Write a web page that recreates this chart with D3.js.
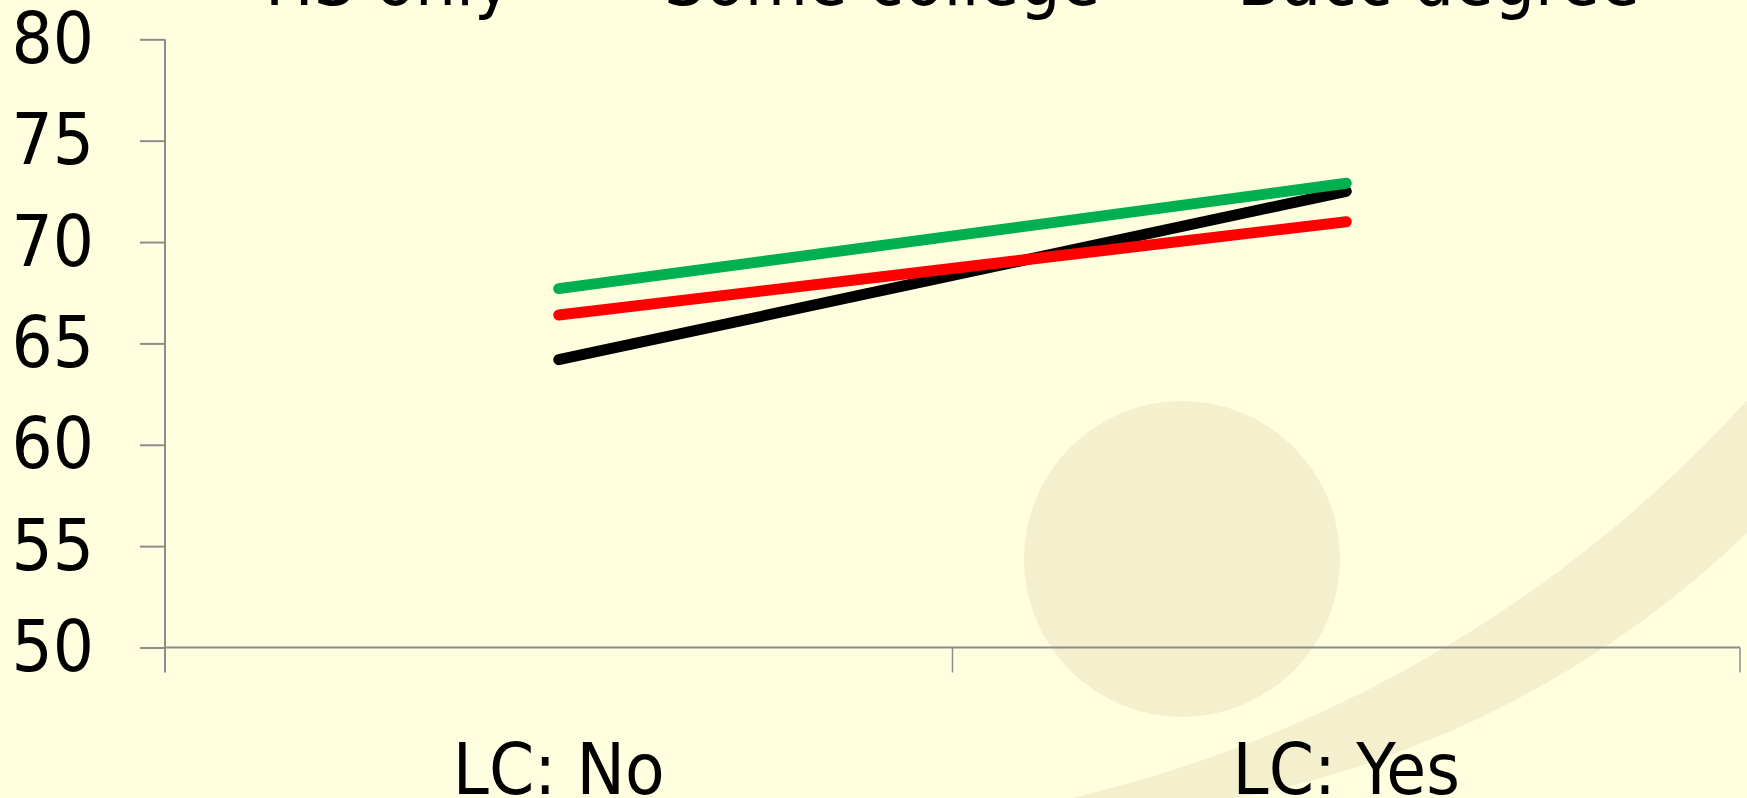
<!DOCTYPE html>
<html>
<head>
<meta charset="utf-8">
<script src="https://cdn.jsdelivr.net/npm/d3@7"></script>
<style>
  html, body { margin: 0; padding: 0; background: #FFFFE0; overflow: hidden; }
  svg { display: block; }
  text { font-family: "DejaVu Sans Condensed", "DejaVu Sans", sans-serif; font-stretch: condensed; fill: #000; }
</style>
</head>
<body>
<svg id="chart" width="1747" height="798"></svg>
<script>
// Categories along the x axis
const categories = ["LC: No", "LC: Yes"];
// Series names (legend order)
const seriesNames = ["HS only", "Some college", "Bacc degree"];
// Series values, one per category
const hsOnly = [64.2, 72.5];
const someCollege = [66.4, 71.0];
const baccDegree = [67.7, 72.9];
// Y axis tick labels
const yTicks = [50, 55, 60, 65, 70, 75, 80];

const seriesColors = ["#000000", "#FF0000", "#00B050"];
const seriesValues = [hsOnly, someCollege, baccDegree];
const series = seriesNames.map((name, i) => ({ name, color: seriesColors[i], values: seriesValues[i] }));

const W = 1747, H = 798;
const margin = { top: 39.3, right: 7, bottom: 150.5, left: 165 };

const svg = d3.select("#chart");
const defs = svg.append("defs");

// Background
svg.append("rect").attr("width", W).attr("height", H).attr("fill", "#FFFFE0");

// Decorative swoosh: the part of one large circle lying outside another
const mask = defs.append("mask").attr("id", "swooshMask")
  .attr("maskUnits", "userSpaceOnUse")
  .attr("x", 0).attr("y", 0).attr("width", W).attr("height", H);
mask.append("rect").attr("width", W).attr("height", H).attr("fill", "#fff");
mask.append("circle").attr("cx", 770).attr("cy", -486).attr("r", 1319).attr("fill", "#000");

const decoFill = "#F4EFCC";
svg.append("circle")
  .attr("cx", 1039).attr("cy", -206).attr("r", 1023.5)
  .attr("fill", decoFill)
  .attr("mask", "url(#swooshMask)");
svg.append("circle").attr("cx", 1182).attr("cy", 559).attr("r", 158).attr("fill", decoFill);

// Scales
const x = d3.scaleBand().domain(categories).range([margin.left, W - margin.right]).padding(0);
const y = d3.scaleLinear().domain([50, 80]).range([H - margin.bottom, margin.top]);

const axisColor = "#8C8C8C";
const tickLen = 25;

// Y axis
const yAxis = svg.append("g")
  .attr("transform", `translate(${margin.left},0)`)
  .call(d3.axisLeft(y).tickValues(yTicks).tickSize(tickLen).tickPadding(46).tickFormat(d3.format("d")));
yAxis.select(".domain").remove();
yAxis.selectAll(".tick line").attr("stroke", axisColor).attr("stroke-width", 2);
yAxis.selectAll(".tick text")
  .attr("font-size", 72)
  .attr("font-family", null)
  .attr("fill", "#000");
svg.append("line")
  .attr("x1", margin.left).attr("x2", margin.left)
  .attr("y1", y(80)).attr("y2", y(50) + tickLen)
  .attr("stroke", axisColor).attr("stroke-width", 2);

// X axis: baseline plus ticks at band boundaries
const x0 = x.range()[0], x1 = x.range()[1];
svg.append("line")
  .attr("x1", x0).attr("x2", x1)
  .attr("y1", y(50)).attr("y2", y(50))
  .attr("stroke", axisColor).attr("stroke-width", 2);
const boundaries = categories.map(c => x(c)).concat([x1]);
svg.append("g").selectAll("line").data(boundaries.slice(1)).join("line")
  .attr("x1", d => d).attr("x2", d => d)
  .attr("y1", y(50)).attr("y2", y(50) + tickLen)
  .attr("stroke", axisColor).attr("stroke-width", 1.5);

svg.append("g").selectAll("text").data(categories).join("text")
  .attr("x", d => x(d) + x.bandwidth() / 2)
  .attr("y", 794)
  .attr("text-anchor", "middle")
  .attr("font-size", 72)
  .text(d => d);

// Series lines
const line = d3.line()
  .x((d, i) => x(categories[i]) + x.bandwidth() / 2)
  .y(d => y(d));

svg.append("g").selectAll("path").data(series).join("path")
  .attr("d", d => line(d.values))
  .attr("fill", "none")
  .attr("stroke", d => d.color)
  .attr("stroke-width", 11)
  .attr("stroke-linecap", "round");

// Legend across the top
const legendX = [265, 664, 1237];
const legend = svg.append("g").selectAll("g").data(series).join("g")
  .attr("transform", (d, i) => `translate(${legendX[i]},5)`);
legend.append("line")
  .attr("x1", -120).attr("x2", -25)
  .attr("y1", -24).attr("y2", -24)
  .attr("stroke", d => d.color).attr("stroke-width", 11);
legend.append("text")
  .attr("x", 0).attr("y", 0)
  .attr("font-size", 72)
  .text(d => d.name);
</script>
</body>
</html>
